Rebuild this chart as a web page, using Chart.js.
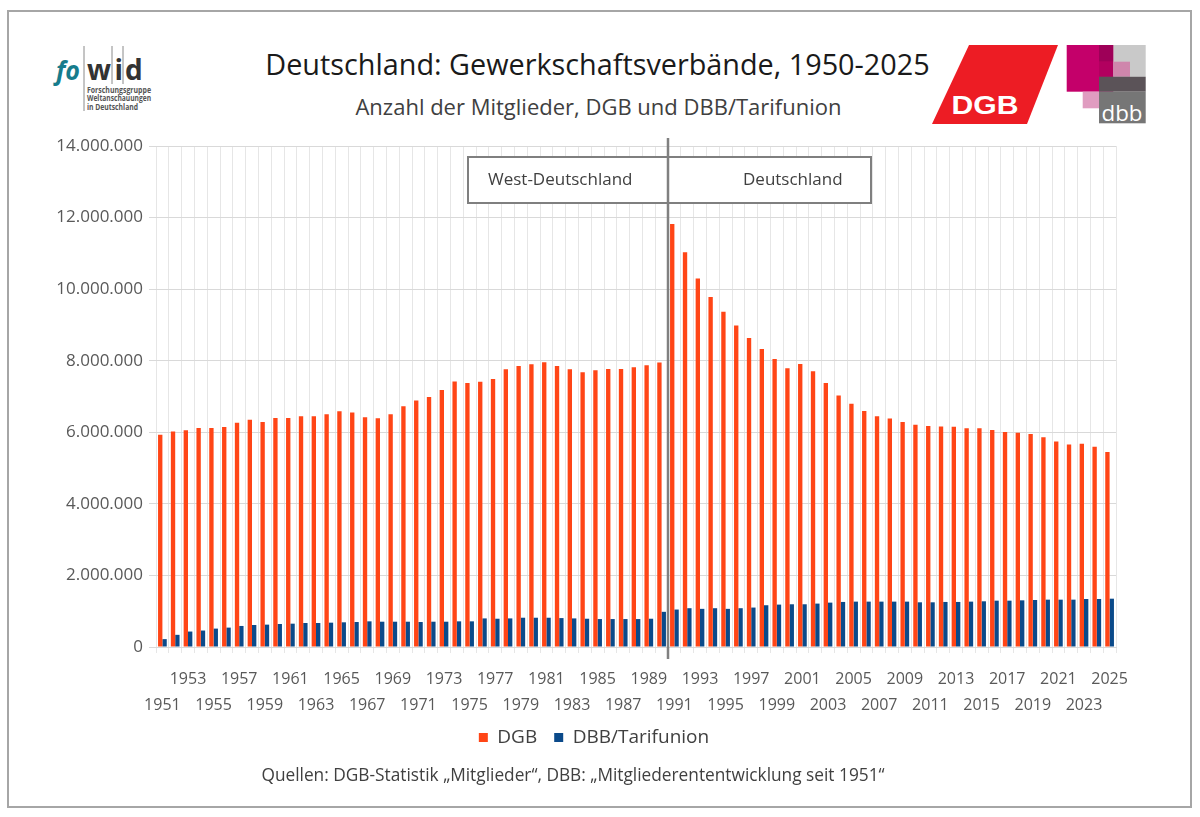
<!DOCTYPE html>
<html lang="de">
<head>
<meta charset="utf-8">
<title>Deutschland: Gewerkschaftsverbände, 1950-2025</title>
<script src="https://cdn.jsdelivr.net/npm/chart.js@4.4.1/dist/chart.umd.min.js"></script>
<style>
  html, body { margin: 0; padding: 0; background: #fff; }
  body { width: 1200px; height: 817px; position: relative; overflow: hidden; font-family: 'Open Sans', sans-serif; }
  #frame { position: absolute; left: 7px; top: 10px; width: 1181px; height: 794px; border: 2px solid #a6a6a6; }
  #wrap { position: absolute; left: 0; top: 0; width: 1200px; height: 817px; }
  .title { position: absolute; left: 0; width: 1195px; text-align: center; top: 45px; font-size: 28.8px; line-height: 38px; color: #1a1a1a; }
  .subtitle { position: absolute; left: 0; width: 1197px; text-align: center; top: 93px; font-size: 22px; line-height: 26px; color: #404040; }
  .source { position: absolute; left: 0; width: 1146px; text-align: center; top: 764px; font-size: 17.3px; line-height: 22px; color: #404040; }
  svg.logos { position: absolute; left: 0; top: 0; }
</style>
</head>
<body>
<div id="frame"></div>

<svg class="logos" width="1200" height="140" xmlns="http://www.w3.org/2000/svg">
  <!-- fowid -->
  <g font-family="'Open Sans', sans-serif" font-weight="700">
    <text x="56" y="80" font-size="27" font-style="italic" fill="#167c8c" textLength="24" lengthAdjust="spacingAndGlyphs">fo</text>
    <line x1="84" y1="46" x2="84" y2="111" stroke="#8a8a8a" stroke-width="1"/>
    <text x="87" y="80" font-size="28" fill="#333">w</text>
    <line x1="112" y1="46" x2="112" y2="84" stroke="#8a8a8a" stroke-width="1"/>
    <text x="114.5" y="80" font-size="28" fill="#333">i</text>
    <line x1="123" y1="46" x2="123" y2="84" stroke="#8a8a8a" stroke-width="1"/>
    <text x="125" y="80" font-size="28" fill="#333">d</text>
    <text x="87" y="92.5" font-size="8" fill="#555" textLength="64" lengthAdjust="spacingAndGlyphs">Forschungsgruppe</text>
    <text x="87" y="101" font-size="8" fill="#555" textLength="64" lengthAdjust="spacingAndGlyphs">Weltanschauungen</text>
    <text x="87" y="109.5" font-size="8" fill="#555" textLength="51" lengthAdjust="spacingAndGlyphs">in Deutschland</text>
  </g>
  <!-- DGB -->
  <polygon points="969,45 1058,45 1027,124 932,124" fill="#ed1c24"/>
  <text x="985" y="113.5" text-anchor="middle" font-family="'Liberation Sans', Arial, sans-serif" font-weight="700" font-size="26" fill="#fff" textLength="67" lengthAdjust="spacingAndGlyphs">DGB</text>
  <!-- dbb -->
  <rect x="1066.7" y="45" width="46.6" height="46.7" fill="#c4006a"/>
  <rect x="1113.3" y="45" width="32.4" height="31.7" fill="#c9c9c9"/>
  <rect x="1099" y="45" width="14.3" height="16.7" fill="#9e0058"/>
  <rect x="1099" y="61.7" width="14.3" height="15" fill="#b2005f"/>
  <rect x="1113.3" y="61.7" width="16.7" height="15" fill="#cf86ac"/>
  <rect x="1099" y="76.7" width="46.7" height="15" fill="#5b5358"/>
  <rect x="1099" y="91.7" width="46.7" height="31.6" fill="#767676"/>
  <rect x="1082.7" y="91.7" width="16.3" height="16.6" fill="#e09cc0"/>
  <text x="1101.5" y="120.5" font-family="'Open Sans', sans-serif" font-size="21" fill="#fff" textLength="41" lengthAdjust="spacingAndGlyphs">dbb</text>
</svg>

<div class="title">Deutschland: Gewerkschaftsverbände, 1950-2025</div>
<div class="subtitle">Anzahl der Mitglieder, DGB und DBB/Tarifunion</div>

<div id="wrap"><canvas id="chart"></canvas></div>

<div class="source">Quellen: DGB-Statistik „Mitglieder“, DBB: „Mitgliederententwicklung seit 1951“</div>

<script>
'use strict';

const years = [
  '1951','1952','1953','1954','1955','1956','1957','1958','1959','1960',
  '1961','1962','1963','1964','1965','1966','1967','1968','1969','1970',
  '1971','1972','1973','1974','1975','1976','1977','1978','1979','1980',
  '1981','1982','1983','1984','1985','1986','1987','1988','1989','1990',
  '1991','1992','1993','1994','1995','1996','1997','1998','1999','2000',
  '2001','2002','2003','2004','2005','2006','2007','2008','2009','2010',
  '2011','2012','2013','2014','2015','2016','2017','2018','2019','2020',
  '2021','2022','2023','2024','2025'
];

// DGB Mitglieder
const dgbMembers = [
  5930000, 6020000, 6060000, 6120000, 6120000, 6150000, 6265000, 6350000, 6285000, 6400000,
  6400000, 6450000, 6450000, 6505000, 6590000, 6550000, 6420000, 6395000, 6505000, 6725000,
  6890000, 6985000, 7185000, 7420000, 7375000, 7410000, 7490000, 7760000, 7855000, 7900000,
  7960000, 7855000, 7760000, 7680000, 7735000, 7770000, 7770000, 7815000, 7870000, 7950000,
  11820000, 11030000, 10300000, 9780000, 9370000, 8985000, 8635000, 8325000, 8045000, 7790000,
  7910000, 7705000, 7375000, 7025000, 6800000, 6595000, 6450000, 6385000, 6285000, 6210000,
  6175000, 6165000, 6155000, 6115000, 6110000, 6065000, 6005000, 5990000, 5950000, 5860000,
  5740000, 5660000, 5680000, 5595000, 5450000
];

// DBB/Tarifunion Mitglieder
const dbbMembers = [
  220000, 340000, 432000, 460000, 514000, 542000, 588000, 615000, 625000, 643000,
  652000, 671000, 671000, 680000, 690000, 698000, 717000, 707000, 707000, 707000,
  698000, 707000, 707000, 717000, 717000, 799000, 790000, 799000, 818000, 818000,
  818000, 808000, 799000, 790000, 781000, 781000, 781000, 781000, 790000, 983000,
  1047000, 1084000, 1066000, 1084000, 1066000, 1084000, 1102000, 1167000, 1185000, 1194000,
  1194000, 1213000, 1240000, 1259000, 1268000, 1268000, 1268000, 1268000, 1268000, 1249000,
  1249000, 1259000, 1259000, 1268000, 1277000, 1295000, 1295000, 1304000, 1314000, 1323000,
  1323000, 1323000, 1341000, 1341000, 1350000
];

const lastWestYear = '1990';
const regionLabels = ['West-Deutschland', 'Deutschland'];

Chart.defaults.font.family = "'Open Sans', sans-serif";
Chart.defaults.color = '#595959';

function formatDE(v) {
  return String(v).replace(/\B(?=(\d{3})+(?!\d))/g, '.');
}

// Trennlinie 1990/1991 mit Beschriftungsbox
const regionPlugin = {
  id: 'regions',
  afterLayout(chart) {
    // Legende etwas nach rechts, wie im Original
    chart.legend.left += 11;
    chart.legend.right += 11;
  },
  afterDatasetsDraw(chart) {
    const { ctx, chartArea, scales: { x } } = chart;
    const i = years.indexOf(lastWestYear);
    const sepX = (x.getPixelForValue(i) + x.getPixelForValue(i + 1)) / 2;
    const top = chartArea.top + 11, h = 46;
    ctx.save();
    ctx.fillStyle = '#fff';
    ctx.fillRect(sepX - 200, top, 403, h);
    ctx.strokeStyle = '#7f7f7f';
    ctx.lineWidth = 2;
    ctx.strokeRect(sepX - 200, top, 403, h);
    ctx.strokeStyle = '#808080';
    ctx.lineWidth = 2.5;
    ctx.beginPath();
    ctx.moveTo(sepX, chartArea.top - 8);
    ctx.lineTo(sepX, chartArea.bottom + 12);
    ctx.stroke();
    ctx.fillStyle = '#404040';
    ctx.font = "17px 'Open Sans', sans-serif";
    ctx.textBaseline = 'middle';
    ctx.textAlign = 'left';
    ctx.fillText(regionLabels[0], sepX - 180, top + h / 2);
    ctx.fillText(regionLabels[1], sepX + 75, top + h / 2);
    ctx.restore();
  }
};

new Chart(document.getElementById('chart'), {
  type: 'bar',
  data: {
    labels: years,
    datasets: [
      { label: 'DGB', data: dgbMembers, backgroundColor: '#ff4516' },
      { label: 'DBB/Tarifunion', data: dbbMembers, backgroundColor: '#0b4a8a' },
    ]
  },
  options: {
    responsive: true,
    maintainAspectRatio: false,
    animation: false,
    layout: { padding: { top: 146, left: 50, right: 84, bottom: 60 } },
    datasets: { bar: { barPercentage: 1, categoryPercentage: 0.68 } },
    plugins: {
      legend: {
        position: 'bottom',
        labels: { boxWidth: 9, boxHeight: 9, padding: 17, color: '#404040', font: { size: 19 } },
      },
      tooltip: { enabled: false },
    },
    scales: {
      x: {
        afterFit(scale) { scale.height = 64; },
        grid: { color: '#e6e6e6', offset: true, tickLength: 6 },
        border: { color: '#d9d9d9' },
        ticks: {
          autoSkip: false,
          maxRotation: 0,
          padding: 14,
          font: { size: 16, lineHeight: 1.6 },
          callback(value, index) {
            const y = +years[index];
            if (y % 2 === 0) return '';
            return (y % 4 === 1) ? [years[index], ''] : ['', years[index]];
          }
        }
      },
      y: {
        min: 0,
        max: 14000000,
        afterFit(scale) { scale.width = 106; },
        grid: { color: '#d9d9d9', tickLength: 7 },
        border: { display: false },
        ticks: {
          stepSize: 2000000,
          padding: 6,
          font: { size: 17 },
          callback: v => formatDE(v),
        }
      }
    }
  },
  plugins: [regionPlugin]
});
</script>
</body>
</html>
